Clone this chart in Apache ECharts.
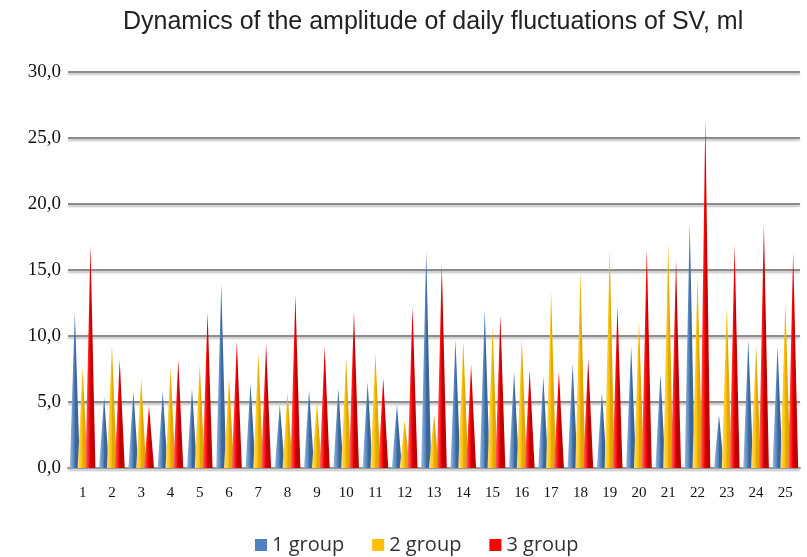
<!DOCTYPE html>
<html>
<head>
<meta charset="utf-8">
<script src="https://cdn.jsdelivr.net/npm/echarts@6/dist/echarts.min.js"></script>
<style>
html, body { margin: 0; padding: 0; background: #fff; }
#chart { width: 807px; height: 557px; }
</style>
</head>
<body>
<div id="chart"></div>
<script>
const categories = ['1', '2', '3', '4', '5', '6', '7', '8', '9', '10', '11', '12', '13',
  '14', '15', '16', '17', '18', '19', '20', '21', '22', '23', '24', '25']
const group1 = [11.8, 5.4, 5.8, 5.8, 6.0, 13.9, 6.4, 4.8, 5.9, 6.0, 6.5, 4.8, 16.4,
  9.7, 12.0, 7.3, 6.9, 7.9, 5.7, 9.2, 7.1, 18.6, 4.0, 9.7, 9.2]
const group2 = [7.6, 9.3, 6.7, 7.6, 7.8, 6.8, 8.7, 5.7, 4.9, 8.3, 8.7, 3.6, 4.1,
  9.6, 10.7, 9.8, 13.3, 14.9, 16.6, 11.1, 17.0, 14.5, 12.2, 9.3, 12.5]
const group3 = [16.9, 8.2, 4.7, 8.2, 11.8, 9.6, 9.4, 13.1, 9.2, 11.9, 6.8, 12.2, 15.4,
  7.8, 11.6, 7.4, 7.3, 8.3, 12.3, 16.6, 15.8, 26.4, 16.9, 18.5, 16.3]
const seriesNames = ['1 group', '2 group', '3 group']
const yTicks = { min: 0, max: 30, interval: 5 }

const colors = ['#4f81bd', '#ffc000', '#ff0000']

const chart = echarts.init(document.getElementById('chart'))

function cone(light, base, dark) {
  return new echarts.graphic.LinearGradient(0, 0, 1, 0, [
    { offset: 0, color: light },
    { offset: 0.45, color: base },
    { offset: 0.55, color: dark },
    { offset: 1, color: dark }
  ])
}

function makeSeries(name, data, shades) {
  return {
    name: name,
    type: 'pictorialBar',
    symbol: 'triangle',
    symbolSize: ['100%', '100%'],
    barWidth: 10,
    barGap: '-22%',
    itemStyle: { color: cone(shades[0], shades[1], shades[2]) },
    data: data
  }
}

const option = {
  color: colors,
  title: {
    text: 'Dynamics of the amplitude of daily fluctuations of SV, ml',
    left: 118,
    top: 5,
    textStyle: {
      fontFamily: 'Liberation Sans',
      fontSize: 25,
      fontWeight: 'normal',
      color: '#222'
    }
  },
  legend: {
    top: 530,
    left: 250,
    itemWidth: 12,
    itemHeight: 12,
    itemGap: 28,
    icon: 'rect',
    textStyle: {
      fontFamily: 'Open Sans',
      fontSize: 20,
      color: '#333'
    },
    data: seriesNames.map(function (n, i) {
      return { name: n, itemStyle: { color: colors[i] } }
    })
  },
  grid: {
    left: 68,
    right: 7,
    top: 72,
    bottom: 89
  },
  xAxis: {
    type: 'category',
    data: categories,
    axisLine: { lineStyle: { color: '#9a9a9a', width: 2 } },
    axisTick: { show: false },
    axisLabel: {
      fontFamily: 'Liberation Serif',
      fontSize: 15,
      color: '#111',
      margin: 18
    }
  },
  yAxis: {
    type: 'value',
    min: yTicks.min,
    max: yTicks.max,
    interval: yTicks.interval,
    axisLine: { show: false },
    axisTick: { show: false },
    axisLabel: {
      fontFamily: 'Liberation Serif',
      fontSize: 19,
      color: '#111',
      margin: 7,
      formatter: function (v) { return v.toFixed(1).replace('.', ',') }
    },
    splitLine: {
      lineStyle: {
        color: '#8c8c8c',
        width: 2,
        shadowColor: 'rgba(0,0,0,0.25)',
        shadowBlur: 2,
        shadowOffsetY: 2
      }
    }
  },
  series: [
    makeSeries(seriesNames[0], group1, ['#9ab8dc', '#4f81bd', '#3b6698']),
    makeSeries(seriesNames[1], group2, ['#ffe07a', '#ffc000', '#e0a800']),
    makeSeries(seriesNames[2], group3, ['#ff7070', '#ff0000', '#c00000'])
  ]
}

chart.setOption(option)
</script>
</body>
</html>
